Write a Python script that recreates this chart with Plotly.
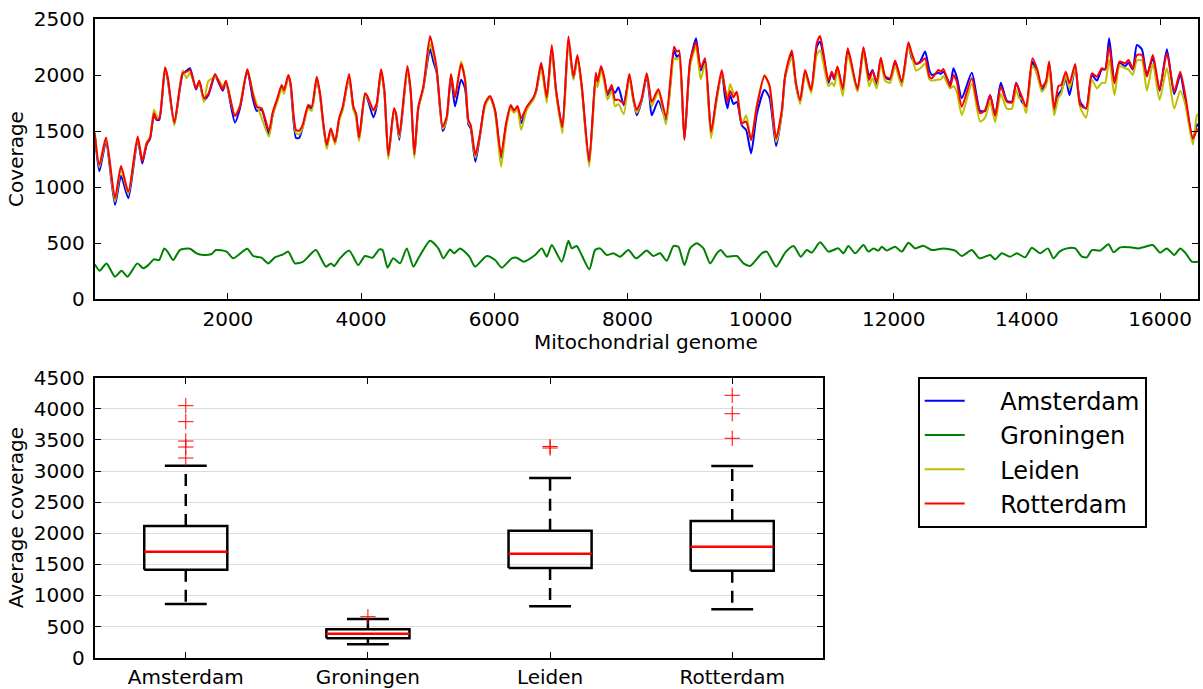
import plotly.graph_objects as go

# ---------------- data ----------------
series_names = ["Amsterdam", "Groningen", "Leiden", "Rotterdam"]
series_colors = ["#0000ff", "#008000", "#bfbf00", "#ff0000"]

positions = [0, 70, 170, 305, 395, 505, 645, 715, 781, 831, 890, 930, 970, 1056, 1096, 1196, 1321, 1381, 1431, 1521,
             1571, 1641, 1706, 1806, 1871, 1921, 1971, 2106, 2181, 2292, 2371, 2431, 2506, 2617, 2672, 2743, 2808, 2843, 2908, 2943,
             3023, 3073, 3123, 3208, 3258, 3334, 3384, 3434, 3485, 3545, 3610, 3670, 3725, 3820, 3885, 3925, 3970, 4060, 4095, 4185,
             4235, 4300, 4350, 4410, 4495, 4525, 4575, 4695, 4745, 4800, 4860, 4935, 5036, 5086, 5136, 5226, 5286, 5351, 5411, 5502,
             5562, 5612, 5647, 5717, 5787, 5862, 5937, 6012, 6103, 6178, 6248, 6298, 6349, 6404, 6489, 6589, 6629, 6704, 6739, 6789,
             6864, 6929, 7024, 7114, 7189, 7249, 7314, 7425, 7525, 7550, 7605, 7650, 7700, 7765, 7815, 7865, 7945, 8029, 8090, 8140,
             8215, 8290, 8330, 8365, 8465, 8580, 8701, 8741, 8776, 8856, 8941, 9031, 9101, 9166, 9257, 9332, 9417, 9467, 9503, 9543,
             9593, 9643, 9718, 9783, 9858, 9943, 10058, 10133, 10233, 10319, 10369, 10469, 10529, 10594, 10669, 10759, 10844, 10894, 10944, 11019,
             11069, 11105, 11155, 11235, 11310, 11455, 11545, 11630, 11680, 11745, 11805, 11870, 11945, 12020, 12120, 12220, 12270, 12336, 12396, 12471,
             12536, 12571, 12671, 12706, 12746, 12847, 12897, 12947, 13022, 13172, 13297, 13372, 13447, 13523, 13608, 13698, 13773, 13838, 13883, 13923,
             13988, 14083, 14158, 14223, 14284, 14334, 14409, 14474, 14514, 14584, 14640, 14725, 14800, 14890, 14975, 15050, 15125, 15175, 15235, 15315,
             15390, 15475, 15525, 15590, 15651, 15726, 15801, 15891, 15992, 16102, 16212, 16302, 16377, 16492, 16552, 16569]

rotterdam = [1480, 1197, 1441, 899, 1188, 958, 1450, 1232, 1390, 1435, 1658, 1605, 1612, 2069, 1986, 1575, 2015, 2030, 2045, 1881,
             1948, 1792, 1830, 2009, 1932, 1873, 1948, 1634, 1717, 2051, 1837, 1717, 1703, 1503, 1664, 1792, 1911, 1866, 2000, 1926,
             1509, 1503, 1554, 1732, 1717, 1985, 1837, 1569, 1375, 1524, 1405, 1613, 1717, 2009, 1717, 1658, 1441, 1837, 1813, 1688,
             1747, 2051, 1866, 1286, 1703, 1658, 1464, 2081, 1866, 1295, 1717, 1896, 2349, 2224, 2060, 1539, 1628, 2009, 1800, 2099,
             1955, 1598, 1554, 1286, 1479, 1747, 1813, 1688, 1286, 1569, 1732, 1682, 1723, 1613, 1717, 1801, 1866, 2110, 2000, 1801,
             2268, 1866, 1539, 2343, 1985, 2179, 1911, 1226, 2021, 1940, 2081, 1985, 1837, 1911, 1777, 1780, 1750, 2009, 1792, 1688,
             1792, 2015, 1880, 1760, 1872, 1628, 2253, 2209, 2218, 1420, 2120, 2292, 2060, 2149, 1494, 1777, 2045, 1866, 1762, 1857,
             1801, 1851, 1569, 1584, 1420, 1717, 1991, 1911, 1435, 1688, 2000, 2218, 1940, 1777, 2045, 1866, 2283, 2349, 2194, 1948,
             2030, 1970, 2075, 1881, 2238, 1873, 2247, 1955, 2036, 1940, 2155, 1991, 1970, 2129, 1940, 2292, 2194, 2099, 2110, 2149,
             1985, 1970, 2045, 2030, 2054, 1896, 2000, 1940, 1717, 1970, 1658, 1688, 1822, 1634, 1896, 1762, 1753, 1926, 1866, 1807,
             1717, 2149, 2045, 1896, 1940, 2120, 1703, 1902, 1911, 2030, 1926, 2099, 1732, 1703, 2015, 1985, 2060, 2051, 2253, 1926,
             2120, 2105, 2134, 2060, 2179, 2179, 1985, 2179, 1873, 2194, 1851, 2030, 1822, 1435, 1509, 1520]

amsterdam = [1470, 1140, 1400, 840, 1100, 899, 1420, 1210, 1380, 1430, 1640, 1600, 1600, 2050, 1960, 1560, 2010, 2040, 2060, 1870,
             1940, 1780, 1820, 1990, 1920, 1860, 1930, 1575, 1700, 2040, 1800, 1680, 1690, 1470, 1640, 1780, 1890, 1850, 1990, 1900,
             1437, 1440, 1530, 1720, 1700, 1960, 1820, 1550, 1360, 1510, 1390, 1600, 1700, 1980, 1700, 1640, 1430, 1820, 1790, 1622,
             1720, 2030, 1850, 1270, 1690, 1640, 1420, 2050, 1850, 1280, 1700, 1880, 2230, 2120, 2020, 1500, 1610, 1980, 1720, 1958,
             1880, 1560, 1520, 1226, 1460, 1740, 1800, 1680, 1260, 1550, 1720, 1680, 1710, 1570, 1700, 1790, 1850, 2090, 1980, 1790,
             2240, 1850, 1530, 2300, 1960, 2160, 1890, 1210, 2000, 1920, 2060, 1970, 1820, 1880, 1840, 1890, 1730, 1980, 1780, 1640,
             1770, 1990, 1820, 1640, 1770, 1600, 2220, 2160, 2180, 1430, 2110, 2329, 2040, 2120, 1470, 1760, 2020, 1800, 1703, 1820,
             1740, 1760, 1550, 1510, 1301, 1650, 1866, 1800, 1367, 1660, 1980, 2180, 1920, 1760, 2030, 1860, 2250, 2300, 2170, 1930,
             2020, 1960, 2060, 1870, 2220, 1860, 2230, 1990, 2045, 1920, 2140, 1980, 1960, 2120, 1930, 2270, 2150, 2100, 2120, 2209,
             2040, 2000, 2020, 2010, 2030, 1920, 2060, 1980, 1792, 2021, 1680, 1680, 1820, 1640, 1930, 1770, 1760, 1930, 1860, 1760,
             1720, 2120, 2000, 1870, 1920, 2100, 1680, 1830, 1860, 1960, 1820, 2070, 1760, 1700, 2000, 1950, 2050, 2050, 2329, 1940,
             2110, 2080, 2110, 2050, 2268, 2230, 2000, 2150, 1860, 2229, 1830, 2000, 1780, 1420, 1560, 1540]

leiden = [1500, 1180, 1420, 870, 1160, 940, 1430, 1240, 1400, 1450, 1690, 1640, 1620, 2040, 1970, 1550, 2040, 1970, 2020, 1890,
          1930, 1760, 1945, 1980, 1950, 1900, 1920, 1640, 1730, 2050, 1860, 1740, 1620, 1450, 1640, 1760, 1880, 1830, 1980, 1910,
          1480, 1470, 1530, 1700, 1680, 1960, 1810, 1540, 1340, 1500, 1380, 1590, 1690, 1980, 1690, 1620, 1410, 1810, 1800, 1680,
          1730, 2020, 1840, 1250, 1690, 1640, 1440, 2040, 1850, 1260, 1700, 1880, 2280, 2180, 2040, 1520, 1600, 2000, 1800, 2120,
          1960, 1580, 1540, 1260, 1470, 1720, 1800, 1660, 1181, 1530, 1700, 1660, 1700, 1510, 1690, 1780, 1850, 2050, 1960, 1750,
          2220, 1840, 1480, 2280, 1960, 2140, 1880, 1181, 1950, 1890, 2040, 1940, 1780, 1860, 1720, 1740, 1650, 1990, 1760, 1660,
          1780, 2000, 1860, 1720, 1850, 1560, 2150, 2140, 2150, 1440, 2080, 2250, 1960, 2100, 1435, 1740, 2010, 1880, 1800, 1920,
          1840, 1830, 1560, 1640, 1420, 1730, 2000, 1900, 1400, 1650, 1980, 2160, 1910, 1740, 2010, 1840, 2180, 2220, 2100, 1900,
          1930, 1900, 2040, 1813, 2180, 1850, 2200, 1900, 1970, 1880, 2110, 1950, 1930, 2080, 1900, 2250, 2170, 2040, 2060, 2100,
          1960, 1950, 1960, 1960, 1990, 1880, 1900, 1850, 1643, 1920, 1584, 1620, 1760, 1580, 1830, 1700, 1700, 1870, 1790, 1790,
          1660, 2080, 2000, 1850, 1900, 2060, 1640, 1800, 1830, 1990, 1880, 2060, 1710, 1620, 1960, 1880, 1930, 1930, 2140, 1820,
          2080, 2060, 2050, 2000, 2130, 2130, 1860, 2100, 1780, 2060, 1700, 1860, 1740, 1380, 1640, 1650]

groningen_positions = [0, 75, 178, 303, 403, 493, 640, 730, 805, 888, 968, 1044, 1094, 1179, 1279, 1430, 1530, 1630, 1755, 1820,
                       1980, 2080, 2290, 2380, 2505, 2606, 2706, 2831, 2907, 3007, 3132, 3207, 3322, 3472, 3547, 3597, 3683, 3823, 3958, 4058,
                       4173, 4273, 4323, 4398, 4483, 4586, 4686, 4786, 4861, 5036, 5161, 5237, 5337, 5397, 5487, 5627, 5712, 5888, 6013, 6113,
                       6263, 6338, 6439, 6614, 6714, 6789, 6864, 7014, 7114, 7164, 7239, 7289, 7429, 7514, 7589, 7690, 7790, 7890, 8015, 8130,
                       8290, 8390, 8491, 8591, 8691, 8766, 8856, 8941, 9041, 9142, 9242, 9342, 9402, 9492, 9643, 9743, 9843, 10018, 10093, 10233,
                       10369, 10494, 10604, 10694, 10769, 10894, 11019, 11094, 11169, 11244, 11319, 11420, 11545, 11620, 11695, 11770, 11820, 11895, 12020, 12121,
                       12221, 12321, 12446, 12571, 12746, 12922, 13022, 13172, 13287, 13448, 13523, 13623, 13748, 13848, 13973, 14073, 14198, 14314, 14399, 14489,
                       14600, 14725, 14825, 14900, 14975, 15100, 15225, 15300, 15400, 15550, 15676, 15776, 15891, 16001, 16101, 16211, 16302, 16377, 16477, 16569]

groningen = [310, 253, 318, 199, 253, 199, 318, 274, 303, 354, 348, 452, 423, 348, 437, 449, 408, 393, 402, 437,
             423, 363, 449, 384, 369, 318, 372, 399, 423, 318, 333, 378, 437, 289, 318, 295, 363, 432, 303, 384,
             369, 443, 437, 280, 363, 318, 452, 289, 363, 520, 452, 363, 443, 408, 452, 378, 289, 384, 348, 280,
             363, 369, 333, 393, 452, 378, 482, 333, 520, 452, 473, 423, 265, 437, 452, 393, 408, 378, 437, 363,
             432, 384, 408, 342, 473, 467, 303, 452, 497, 452, 318, 408, 437, 378, 384, 318, 295, 408, 423, 289,
             414, 473, 378, 437, 414, 506, 423, 437, 452, 408, 473, 408, 482, 423, 452, 432, 467, 432, 467, 423,
             503, 452, 476, 437, 452, 432, 384, 437, 363, 393, 354, 408, 378, 408, 372, 458, 408, 452, 363, 423,
             452, 452, 378, 372, 437, 432, 488, 417, 461, 461, 452, 467, 482, 414, 452, 393, 452, 414, 333, 333]

box_names = ["Amsterdam", "Groningen", "Leiden", "Rotterdam"]
box_lower = [863, 215, 826, 778]
box_q1 = [1414, 312, 1441, 1398]
box_median = [1704, 386, 1671, 1784]
box_q3 = [2117, 456, 2041, 2197]
box_upper = [3086, 622, 2888, 3081]
box_outliers = [[3209, 3386, 3482, 3793, 4050], [659], [3370, 3395], [3526, 3921, 4217]]

x_ticks_top = [2000, 4000, 6000, 8000, 10000, 12000, 14000, 16000]
x_ticktext_top = ["2000", "4000", "6000", "8000", "10000", "12000", "14000", "16000"]
y_ticks_top = [0, 500, 1000, 1500, 2000, 2500]
y_ticks_box = [0, 500, 1000, 1500, 2000, 2500, 3000, 3500, 4000, 4500]

# ---------------- figure ----------------
FONT = "DejaVu Sans"
W, H = 1203, 689
fig = go.Figure()

line_data = {
    "Amsterdam": (positions, amsterdam),
    "Groningen": (groningen_positions, groningen),
    "Leiden": (positions, leiden),
    "Rotterdam": (positions, rotterdam),
}
NB = "\u00a0\u00a0\u00a0\u00a0"
for name, color in zip(series_names, series_colors):
    xs, ys = line_data[name]
    fig.add_trace(go.Scatter(x=xs, y=ys, mode="lines", name=NB + name,
                             line=dict(color=color, width=2, shape="spline", smoothing=0.6),
                             xaxis="x", yaxis="y", hoverinfo="skip"))

# box plot drawn with the library's scales
HW = 0.228   # half box width
CW = 0.115   # half cap width
for i, nm in enumerate(box_names):
    xc = i + 1
    lo, q1, med, q3, hi = box_lower[i], box_q1[i], box_median[i], box_q3[i], box_upper[i]
    for a, b in ((q3, hi), (q1, lo)):
        fig.add_trace(go.Scatter(x=[xc, xc], y=[a, b], mode="lines", showlegend=False,
                                 line=dict(color="black", width=2.5, dash="12px,8px"),
                                 xaxis="x2", yaxis="y2", hoverinfo="skip"))
    for v in (lo, hi):
        fig.add_trace(go.Scatter(x=[xc - CW, xc + CW], y=[v, v], mode="lines", showlegend=False,
                                 line=dict(color="black", width=2.5),
                                 xaxis="x2", yaxis="y2", hoverinfo="skip"))
    fig.add_trace(go.Scatter(x=[xc - HW, xc + HW, xc + HW, xc - HW, xc - HW],
                             y=[q1, q1, q3, q3, q1], mode="lines", showlegend=False,
                             line=dict(color="black", width=2.5),
                             xaxis="x2", yaxis="y2", hoverinfo="skip"))
    fig.add_trace(go.Scatter(x=[xc - HW, xc + HW], y=[med, med], mode="lines", showlegend=False,
                             line=dict(color="#ff0000", width=2.5),
                             xaxis="x2", yaxis="y2", hoverinfo="skip"))
    fig.add_trace(go.Scatter(x=[xc] * len(box_outliers[i]), y=box_outliers[i], mode="markers",
                             showlegend=False,
                             marker=dict(symbol="cross-thin", size=11, line=dict(color="#ff0000", width=1)),
                             xaxis="x2", yaxis="y2", hoverinfo="skip"))

x0 = 94.7 / W
x1_top = 1198 / W
x1_bot = 823.3 / W
axis_common = dict(showline=True, linecolor="black", linewidth=2, mirror="ticks",
                   ticks="inside", ticklen=6, tickwidth=1, tickcolor="black",
                   tickfont=dict(family=FONT, size=20, color="black"),
                   zeroline=False, automargin=False)

fig.update_layout(
    width=W, height=H,
    margin=dict(l=0, r=0, t=0, b=0),
    paper_bgcolor="white", plot_bgcolor="white",
    font=dict(family=FONT, size=20, color="black"),
    xaxis=dict(domain=[x0, x1_top], range=[0, 16569], tickvals=x_ticks_top, ticktext=x_ticktext_top,
               showgrid=False, anchor="y", ticklabelstandoff=1, **axis_common),
    yaxis=dict(domain=[1 - 299 / H, 1 - 19 / H], range=[0, 2500], tickvals=y_ticks_top,
               showgrid=False, anchor="x", ticklabelstandoff=4,
               title=dict(text="Coverage", font=dict(family=FONT, size=20), standoff=5),
               **axis_common),
    xaxis2=dict(domain=[x0, x1_bot], range=[0.5, 4.5], tickvals=[1, 2, 3, 4], ticktext=box_names,
                showgrid=False, anchor="y2", ticklabelstandoff=0, **axis_common),
    yaxis2=dict(domain=[1 - 657.7 / H, 1 - 377.7 / H], range=[0, 4500], tickvals=y_ticks_box,
                showgrid=True, gridcolor="#dcdcdc", gridwidth=1, anchor="x2", ticklabelstandoff=4,
                title=dict(text="Average coverage", font=dict(family=FONT, size=20), standoff=5),
                **axis_common),
    legend=dict(x=917.7 / W, y=1 - 376.7 / H, xanchor="left", yanchor="top",
                bordercolor="black", borderwidth=2, bgcolor="white",
                font=dict(family=FONT, size=24, color="black"), itemwidth=40,
                tracegroupgap=0),
    showlegend=True,
    annotations=[dict(text="Mitochondrial genome", xref="paper", yref="paper",
                      x=(x0 + x1_top) / 2, y=1 - 329 / H, xanchor="center", yanchor="top",
                      borderpad=0, showarrow=False, font=dict(family=FONT, size=20, color="black"))],
)

fig.write_html("out.html")
